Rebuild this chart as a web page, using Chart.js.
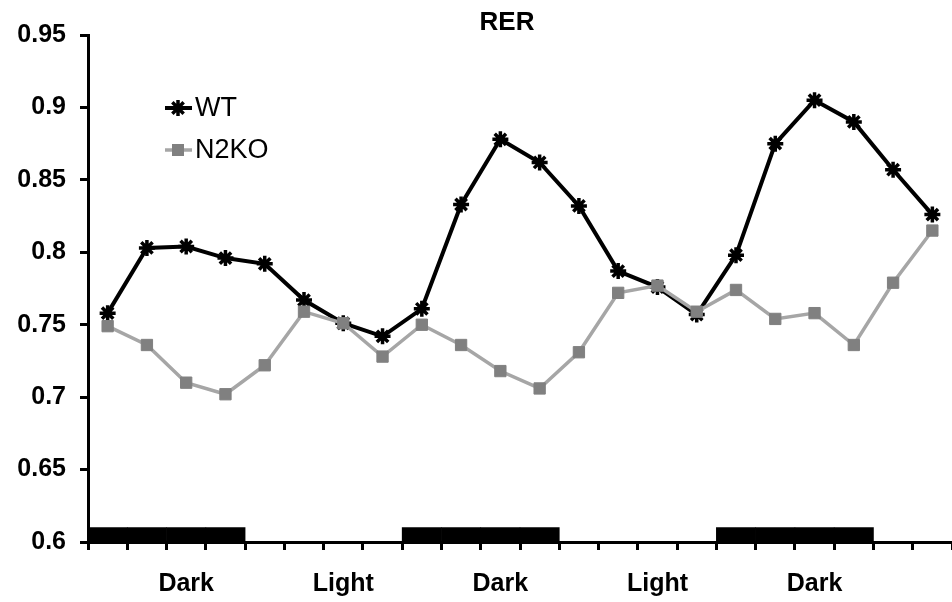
<!DOCTYPE html>
<html><head><meta charset="utf-8">
<script src="https://cdn.jsdelivr.net/npm/chart.js@4/dist/chart.umd.min.js"></script>
<style>html,body{margin:0;padding:0;background:#fff;overflow:hidden}#wrap{width:952px;height:602px;position:relative}canvas{display:block}</style>
</head><body><div id="wrap"><canvas id="c"></canvas></div>
<script>
const titleText = 'RER';
const seriesNames = ['WT', 'N2KO'];
const tickLabels = ['', '', 'Dark', '', '', '', 'Light', '', '', '', 'Dark', '', '', '', 'Light', '', '', '', 'Dark', '', '', ''];
const wtValues = [0.758, 0.803, 0.804, 0.796, 0.792, 0.767, 0.751, 0.742, 0.761, 0.833, 0.878, 0.862, 0.832, 0.787, 0.776, 0.757, 0.798, 0.875, 0.905, 0.890, 0.857, 0.826];
const n2koValues = [0.749, 0.736, 0.710, 0.702, 0.722, 0.759, 0.751, 0.728, 0.750, 0.736, 0.718, 0.706, 0.731, 0.772, 0.777, 0.759, 0.774, 0.754, 0.758, 0.736, 0.779, 0.815];
const darkPhaseBar = [0.61, 0.61, 0.61, 0.61, null, null, null, null, 0.61, 0.61, 0.61, 0.61, null, null, null, null, 0.61, 0.61, 0.61, 0.61, null, null];
const yMin = 0.6, yMax = 0.95, yStep = 0.05;

const FONT = '"Liberation Sans", Arial, sans-serif';

function drawStar(ctx, x, y, r) {
  ctx.beginPath();
  for (let k = 0; k < 4; k++) {
    const ang = k * Math.PI / 4;
    const dx = Math.cos(ang) * r, dy = Math.sin(ang) * r;
    ctx.moveTo(x - dx, y - dy);
    ctx.lineTo(x + dx, y + dy);
  }
  ctx.stroke();
}

const overlay = {
  id: 'overlay',
  afterDraw(chart) {
    const ctx = chart.ctx, a = chart.chartArea;
    ctx.save();
    ctx.fillStyle = '#000';
    ctx.font = 'bold 26px ' + FONT;
    ctx.textAlign = 'center';
    ctx.textBaseline = 'middle';
    ctx.fillText(titleText, a.left + (a.right - a.left) * 0.485, 23);

    // legend
    const lx = a.left + 77, ly1 = a.top + 73, ly2 = a.top + 115;
    ctx.lineCap = 'butt';
    ctx.strokeStyle = '#000'; ctx.lineWidth = 4;
    ctx.beginPath(); ctx.moveTo(lx, ly1); ctx.lineTo(lx + 27, ly1); ctx.stroke();
    ctx.lineWidth = 3.5; drawStar(ctx, lx + 13, ly1, 8);
    ctx.strokeStyle = '#a6a6a6'; ctx.lineWidth = 3.5;
    ctx.beginPath(); ctx.moveTo(lx, ly2); ctx.lineTo(lx + 27, ly2); ctx.stroke();
    ctx.fillStyle = '#808080'; ctx.fillRect(lx + 13 - 6, ly2 - 6, 12, 12);
    ctx.fillStyle = '#000';
    ctx.font = '27px ' + FONT;
    ctx.textAlign = 'left';
    ctx.fillText(seriesNames[0], lx + 30, ly1 + 1);
    ctx.fillText(seriesNames[1], lx + 30, ly2 + 1);
    ctx.restore();
  }
};

const yFont = { family: FONT, size: 25, weight: 'bold' };
const xFont = { family: FONT, size: 25, weight: 'bold', lineHeight: 2.75 };

new Chart(document.getElementById('c'), {
  type: 'line',
  data: {
    labels: tickLabels,
    datasets: [
      { type: 'bar', data: darkPhaseBar, backgroundColor: '#000', borderWidth: 0, barPercentage: 1, categoryPercentage: 1, order: 3 },
      { label: seriesNames[0], data: wtValues, borderColor: '#000', backgroundColor: '#000', borderWidth: 4, pointStyle: 'star', pointRadius: 8, pointBorderWidth: 3.5, pointBorderColor: '#000', tension: 0, order: 2, clip: false },
      { label: seriesNames[1], data: n2koValues, borderColor: '#a6a6a6', backgroundColor: '#808080', borderWidth: 3.5, pointStyle: 'rect', pointRadius: 8, pointBorderWidth: 1, pointBorderColor: '#808080', pointBackgroundColor: '#808080', tension: 0, order: 1, clip: false }
    ]
  },
  options: {
    responsive: true, maintainAspectRatio: false, animation: false,
    layout: { autoPadding: false, padding: { top: 35, left: 0, right: 0, bottom: 0 } },
    plugins: { legend: { display: false }, title: { display: false }, tooltip: { enabled: false } },
    scales: {
      x: {
        offset: true,
        grid: { offset: true, drawOnChartArea: false, drawTicks: true, tickLength: 8, lineWidth: 3, color: '#000' },
        border: { display: true, color: '#000', width: 3 },
        ticks: { autoSkip: false, maxRotation: 0, minRotation: 0, color: '#000', font: xFont, padding: 0 },
        afterFit(s) { s.height = 60; s.paddingLeft = 0; s.paddingRight = 0; }
      },
      y: {
        min: yMin, max: yMax,
        grid: { drawOnChartArea: false, drawTicks: true, tickLength: 8, lineWidth: 3, color: '#000' },
        border: { display: true, color: '#000', width: 3 },
        ticks: { stepSize: yStep, color: '#000', font: yFont, padding: 14, callback: v => String(+(+v).toFixed(2)) },
        afterFit(s) { s.width = 88; }
      }
    }
  },
  plugins: [overlay]
});
</script>
</body></html>
